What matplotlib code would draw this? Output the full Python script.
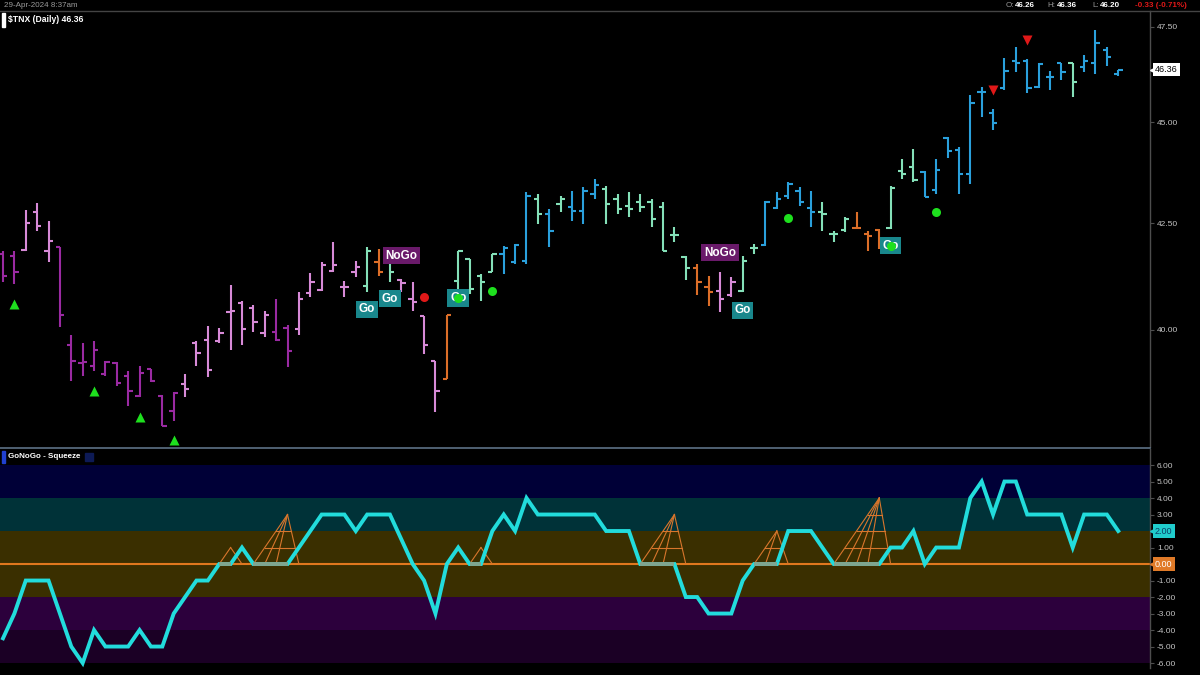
import matplotlib
matplotlib.use("Agg")
import matplotlib.pyplot as plt
from matplotlib.patches import Rectangle
from matplotlib.lines import Line2D
from matplotlib.ticker import FormatStrFormatter
import numpy as np

plt.rcParams['font.family'] = ['Liberation Sans', 'DejaVu Sans']

# ---------------- data ----------------
opens = [41.77, 41.72, 41.86, 42.77, 41.84, 41.93, 39.67, 39.25, 39.19, 39.01,
         39.25, 38.97, 38.53, 39.12, 38.53, 38.20, 38.79, 39.71, 39.78, 39.74,
         40.40, 40.61, 40.50, 39.93, 39.96, 40.05, 40.02, 40.85, 40.92, 41.37,
         40.99, 41.34, 41.01, 41.58, 41.58, 41.16, 40.71, 40.31, 39.30, 38.90,
         41.13, 41.65, 41.25, 41.34, 41.77, 41.58, 41.60, 43.09, 42.72, 42.97,
         42.89, 42.79, 43.21, 43.33, 43.09, 42.92, 43.01, 43.01, 42.89, 42.22,
         41.70, 41.44, 40.99, 40.90, 40.80, 40.90, 41.91, 41.98, 42.87, 43.16,
         43.28, 42.87, 42.77, 42.24, 42.33, 42.38, 42.24, 42.33, 42.38, 43.77,
         43.87, 43.75, 43.31, 44.61, 44.29, 43.70, 45.79, 45.24, 45.87, 46.58,
         46.58, 45.92, 46.16, 46.55, 46.53, 46.42, 46.55, 46.87, 46.26]
highs = [41.84, 41.84, 42.82, 42.99, 42.55, 41.93, 39.89, 39.71, 39.74, 39.30,
         39.27, 39.08, 39.19, 39.12, 38.55, 38.62, 39.01, 39.74, 40.10, 40.05,
         41.04, 40.66, 40.57, 40.42, 40.71, 40.12, 40.87, 41.32, 41.58, 42.05,
         41.13, 41.60, 41.93, 41.89, 41.65, 41.18, 41.11, 40.31, 39.30, 40.35,
         41.82, 41.65, 41.30, 41.77, 41.96, 42.00, 43.26, 43.21, 42.84, 43.16,
         43.28, 43.38, 43.58, 43.41, 43.21, 43.26, 43.21, 43.09, 43.01, 42.41,
         41.72, 41.53, 41.25, 41.34, 41.23, 41.72, 42.00, 43.04, 43.26, 43.50,
         43.38, 43.28, 43.01, 42.31, 42.65, 42.77, 42.31, 42.36, 43.41, 44.07,
         44.31, 43.77, 44.07, 44.63, 44.36, 45.71, 45.92, 45.34, 46.68, 46.97,
         46.63, 46.55, 46.32, 46.55, 46.55, 46.76, 47.42, 46.95, 46.36]
lows = [41.11, 41.06, 41.84, 42.31, 41.58, 40.07, 38.86, 38.97, 39.08, 38.97,
        38.75, 38.31, 38.51, 38.84, 37.87, 37.98, 38.51, 39.19, 38.95, 39.71,
        39.54, 39.67, 39.96, 39.85, 39.74, 39.17, 39.89, 40.76, 40.90, 41.34,
        40.76, 41.23, 40.87, 41.25, 41.11, 40.87, 40.42, 39.45, 38.18, 38.90,
        40.78, 40.83, 40.66, 41.34, 41.30, 41.53, 41.53, 42.48, 41.93, 42.77,
        42.55, 42.48, 43.09, 42.48, 42.72, 42.65, 42.77, 42.41, 41.84, 42.05,
        41.16, 40.80, 40.54, 40.40, 40.76, 40.87, 41.75, 41.96, 42.84, 43.09,
        42.92, 42.41, 42.31, 42.05, 42.29, 42.36, 41.84, 41.89, 42.36, 43.58,
        43.50, 43.14, 43.21, 44.09, 43.21, 43.46, 45.13, 44.80, 45.84, 46.29,
        45.76, 45.89, 45.84, 46.10, 45.66, 46.29, 46.24, 46.45, 46.20]
closes = [41.25, 41.34, 42.50, 42.43, 42.08, 40.33, 39.30, 39.27, 39.54, 39.27,
          38.81, 38.64, 39.03, 38.86, 37.87, 38.59, 38.68, 39.49, 39.10, 39.93,
          40.42, 40.02, 40.19, 40.33, 39.78, 39.52, 40.71, 41.11, 41.49, 41.49,
          40.99, 41.46, 41.82, 41.34, 41.34, 41.09, 40.64, 39.67, 38.64, 40.33,
          41.82, 40.94, 41.11, 41.75, 41.91, 41.98, 43.16, 42.72, 42.31, 43.09,
          42.79, 43.28, 43.43, 42.97, 42.84, 42.84, 42.89, 42.60, 41.84, 42.22,
          41.44, 41.11, 40.87, 40.71, 41.11, 41.60, 41.91, 43.01, 43.09, 43.46,
          43.01, 42.77, 42.72, 42.24, 42.60, 42.38, 42.19, 42.00, 43.36, 43.70,
          43.55, 43.14, 43.80, 44.26, 43.70, 45.50, 45.79, 44.98, 46.32, 46.55,
          45.89, 46.50, 46.18, 46.29, 46.03, 46.58, 47.08, 46.69, 46.36]
# trend state per bar: P strong NoGo, K weak NoGo, O neutral, A weak Go, B strong Go
states = list("PPKKKPPPPP" "PPPPPPKKKK" "KKKKPPKKKK" "KKAOAKKKKO"
              "AAAABBBABA" "BBBAAAAAAA" "AOOKKAABBB" "BBAAAOOOAA"
              "ABBBBBBBBB" "BBBBABBBB")

osc = [-4.5, -3, -1, -1, -1, -3, -5, -6, -4, -5,
       -5, -5, -4, -5, -5, -3, -2, -1, -1, 0,
       0, 1, 0, 0, 0, 0, 1, 2, 3, 3,
       3, 2, 3, 3, 3, 1.5, 0, -1, -3, 0,
       1, 0, 0, 2, 3, 2, 4, 3, 3, 3,
       3, 3, 3, 2, 2, 2, 0, 0, 0, 0,
       -2, -2, -3, -3, -3, -1, 0, 0, 0, 2,
       2, 2, 1, 0, 0, 0, 0, 0, 1, 1,
       2, 0, 1, 1, 1, 4, 5, 3, 5, 5,
       3, 3, 3, 3, 1, 3, 3, 3, 2]
squeeze_start = [19, 22, 41, 56, 66, 73]
squeeze_end = [20, 25, 42, 59, 68, 77]

up_tri_idx = [1, 8, 12, 15]
up_tri_price = [40.59, 38.64, 38.07, 37.58]
down_tri_idx = [87, 90]
down_tri_price = [45.84, 47.16]
green_dot_idx = [40, 43, 69, 78, 82]
green_dot_price = [40.73, 40.90, 42.63, 41.96, 42.77]
red_dot_idx = [37]
red_dot_price = [40.76]

label_text = ["Go", "Go", "NoGo", "Go", "NoGo", "Go", "Go"]
label_idx = [32, 34, 35, 40, 63, 65, 78]
label_price = [40.47, 40.71, 41.72, 40.73, 41.79, 40.45, 41.96]

price_ticks = [40.0, 42.5, 45.0, 47.5]
osc_ticks = list(range(-6, 7))

# ---------------- style ----------------
state_colors = {'P': '#9a2aa2', 'K': '#d78ad7', 'O': '#dc6e28',
                'A': '#84e0b8', 'B': '#2aa0dc'}
W, H = 1200, 675


def fx(px):
    return px / W


def fy(py):
    return 1 - py / H


fig = plt.figure(figsize=(12, 6.75), dpi=100, facecolor='black')
ax = fig.add_axes([0, fy(447), fx(1150), (447 - 11) / H], facecolor='black')
ax2 = fig.add_axes([0, fy(668), fx(1150), (668 - 449) / H], facecolor='black')

n = len(closes)
x = np.arange(n)
xlim = (-0.264, 100.79)

for a in (ax, ax2):
    a.set_xlim(*xlim)
    a.set_xticks([])
    for s in ('top', 'bottom', 'left'):
        a.spines[s].set_visible(False)
    a.spines['right'].set_color('#4d4d4d')
    a.spines['right'].set_linewidth(1.0)
    a.yaxis.tick_right()
    a.tick_params(axis='y', which='both', length=3, width=0.8, color='#4d4d4d',
                  labelsize=6, labelcolor='#c4c4c4', pad=2)

# ---- price panel ----
ax.set_yscale('log')
ax.set_ylim(37.43, 47.93)
ax.yaxis.set_minor_locator(matplotlib.ticker.NullLocator())
ax.set_yticks(price_ticks)
ax.yaxis.set_major_formatter(FormatStrFormatter('%.2f'))

cols = [state_colors[s] for s in states]
tick = 0.38
ax.vlines(x, lows, highs, colors=cols, lw=1.5, zorder=3)
ax.hlines(opens, x - tick, x, colors=cols, lw=1.5, zorder=3)
ax.hlines(closes, x, x + tick, colors=cols, lw=1.5, zorder=3)

ax.plot(up_tri_idx, up_tri_price, ls='none', marker='^', ms=7.5, color='#1ee01e', mec='none', zorder=4)
ax.plot(down_tri_idx, down_tri_price, ls='none', marker='v', ms=7.5, color='#e01818', mec='none', zorder=4)

for t, i, p in zip(label_text, label_idx, label_price):
    fc = '#19878c' if t == 'Go' else '#6a1a6a'
    ax.text(i, p, t, ha='center', va='center', fontsize=8.5, fontweight='bold', color='white',
            bbox=dict(boxstyle='square,pad=0.22', fc=fc, ec='none'), zorder=5)

ax.plot(green_dot_idx, green_dot_price, ls='none', marker='o', ms=6.5, color='#1ee01e', mec='none', zorder=6)
ax.plot(red_dot_idx, red_dot_price, ls='none', marker='o', ms=6.5, color='#e01818', mec='none', zorder=6)

# last price label
ytr = ax.get_yaxis_transform()
ax.plot([1.0 + 3 / 1150], [closes[-1]], marker='<', ms=5, color='white', transform=ytr, clip_on=False, zorder=7)
ax.text(1.0 + 5 / 1150, closes[-1], f"{closes[-1]:.2f}", transform=ytr, ha='left', va='center',
        fontsize=6.5, color='black', clip_on=False,
        bbox=dict(boxstyle='square,pad=0.25', fc='white', ec='none'), zorder=7)

# ---- oscillator panel ----
ax2.set_ylim(-6.30, 6.97)
ax2.set_yticks(osc_ticks)
ax2.yaxis.set_major_formatter(FormatStrFormatter('%.2f'))
band_edges = [(4, 6, '#000037'), (2, 4, '#003238'), (-2, 2, '#3a2f00'),
              (-4, -2, '#2c003c'), (-6, -4, '#1b0025')]
for lo, hi, c in band_edges:
    ax2.axhspan(lo, hi, color=c, lw=0, zorder=0)
ax2.axhline(0, color='#e0781e', lw=1.5, zorder=2)

sq_col = '#d8762c'
for s, e in zip(squeeze_start, squeeze_end):
    lvl = e - s
    for k in range(s, e):
        ax2.plot([k, e], [0, lvl], color=sq_col, lw=0.8, zorder=3)
    ax2.plot([e, e + 1], [lvl, 0], color=sq_col, lw=0.8, zorder=3)
    for j in range(1, lvl):
        xl = s + (e - s) * j / lvl
        xr = e + (lvl - j) / lvl
        ax2.plot([xl, xr], [j, j], color=sq_col, lw=0.8, zorder=3)

ax2.plot(x, osc, color='#22dcdc', lw=2.8, solid_joinstyle='miter', zorder=4)
for s, e in zip(squeeze_start, squeeze_end):
    ax2.plot([s, e], [0, 0], color='#7fa58f', lw=2.8, solid_capstyle='butt', zorder=5)

ytr2 = ax2.get_yaxis_transform()
ax2.plot([1.0 + 3 / 1150], [osc[-1]], marker='<', ms=5, color='#20cccc', transform=ytr2, clip_on=False, zorder=7)
ax2.text(1.0 + 5 / 1150, osc[-1], f"{osc[-1]:.2f}", transform=ytr2, ha='left', va='center',
         fontsize=6.5, color='#0b3d66', clip_on=False,
         bbox=dict(boxstyle='square,pad=0.25', fc='#20cccc', ec='none'), zorder=7)
ax2.plot([1.0 + 3 / 1150], [0], marker='<', ms=5, color='#e07a28', transform=ytr2, clip_on=False, zorder=7)
ax2.text(1.0 + 5 / 1150, 0, "0.00", transform=ytr2, ha='left', va='center',
         fontsize=6.5, color='white', clip_on=False,
         bbox=dict(boxstyle='square,pad=0.25', fc='#e07a28', ec='none'), zorder=7)

# ---- frame lines & headers ----
fig.add_artist(Line2D([0, 1], [fy(10.5), fy(10.5)], transform=fig.transFigure, color='#444444', lw=1.0))
fig.add_artist(Line2D([0, fx(1150)], [fy(448), fy(448)], transform=fig.transFigure, color='#5d7286', lw=1.2))

fig.text(fx(4), fy(5.3), "29-Apr-2024 8:37am", color='#9a9a9a', fontsize=5.8, va='center', ha='left')
fig.patches.append(Rectangle((fx(2), fy(27)), fx(3), 14 / H, transform=fig.transFigure, color='white'))
fig.text(fx(8), fy(20), "\\$TNX (Daily) 46.36", color='white', fontsize=6.2, fontweight='bold', va='center', ha='left')

fig.patches.append(Rectangle((fx(2), fy(463)), fx(3), 12 / H, transform=fig.transFigure, color='#2040d0'))
fig.text(fx(8), fy(457), "GoNoGo - Squeeze", color='white', fontsize=5.8, fontweight='bold', va='center', ha='left')
fig.patches.append(Rectangle((fx(85), fy(461)), fx(8), 8 / H, transform=fig.transFigure, color='#0d1a55'))

ohlc = [(1006, "O:", '#9a9a9a', 'normal'), (1015, f"{opens[-1]:.2f}", 'white', 'bold'),
        (1047, "H:", '#9a9a9a', 'normal'), (1057, f"{highs[-1]:.2f}", 'white', 'bold'),
        (1092, "L:", '#9a9a9a', 'normal'), (1100, f"{lows[-1]:.2f}", 'white', 'bold'),
        (1135, "-0.33 (-0.71%)", '#e01818', 'bold')]
for px, t, c, w in ohlc:
    fig.text(fx(px), fy(5.3), t, color=c, fontsize=5.8, fontweight=w, va='center', ha='left')

fig.savefig("out.png", dpi=100, facecolor='black')
